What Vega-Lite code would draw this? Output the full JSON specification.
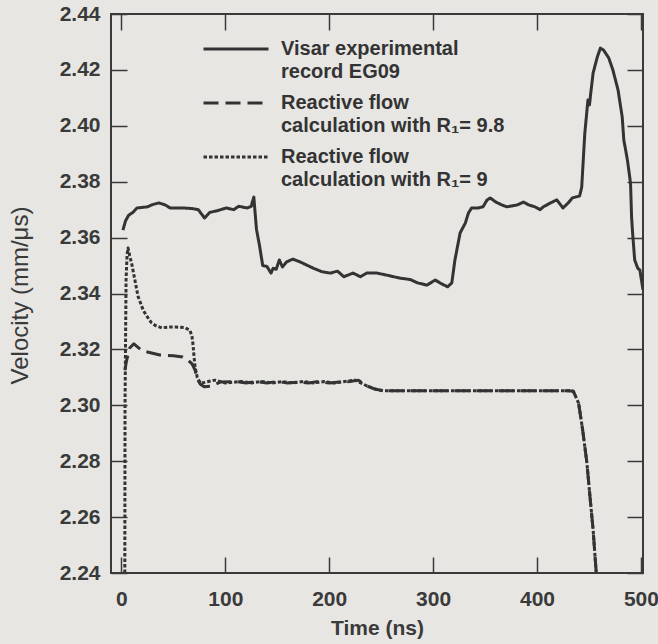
{
  "$schema": "https://vega.github.io/schema/vega-lite/v6.json",
  "autosize": "none",
  "width": 532,
  "height": 559,
  "padding": {"left": 111, "top": 14, "right": 15, "bottom": 71},
  "background": "#e7e6e3",
  "config": {
    "view": {"stroke": "#3a3a3a", "strokeWidth": 2, "fill": "#e7e6e3"},
    "font": "Liberation Sans",
    "style": {"guide-label": {"lineHeight": 23}}
  },
  "datasets": {
    "series": [
      {"t": 1.5, "v": 2.3627, "s": "EG09"}, {"t": 4, "v": 2.366, "s": "EG09"}, {"t": 7, "v": 2.368, "s": "EG09"},
      {"t": 11, "v": 2.369, "s": "EG09"}, {"t": 15, "v": 2.3706, "s": "EG09"}, {"t": 20, "v": 2.3708, "s": "EG09"},
      {"t": 25, "v": 2.371, "s": "EG09"}, {"t": 30, "v": 2.3718, "s": "EG09"}, {"t": 36, "v": 2.3724, "s": "EG09"},
      {"t": 42, "v": 2.3717, "s": "EG09"}, {"t": 47, "v": 2.3706, "s": "EG09"}, {"t": 59, "v": 2.3706, "s": "EG09"},
      {"t": 68, "v": 2.3704, "s": "EG09"}, {"t": 74, "v": 2.37, "s": "EG09"}, {"t": 80, "v": 2.367, "s": "EG09"},
      {"t": 85, "v": 2.369, "s": "EG09"}, {"t": 93, "v": 2.3697, "s": "EG09"}, {"t": 101, "v": 2.3706, "s": "EG09"},
      {"t": 108, "v": 2.37, "s": "EG09"}, {"t": 113, "v": 2.3712, "s": "EG09"}, {"t": 121, "v": 2.3706, "s": "EG09"},
      {"t": 125, "v": 2.3712, "s": "EG09"}, {"t": 126, "v": 2.3727, "s": "EG09"}, {"t": 127.5, "v": 2.3745, "s": "EG09"},
      {"t": 128, "v": 2.372, "s": "EG09"}, {"t": 130, "v": 2.363, "s": "EG09"}, {"t": 133, "v": 2.357, "s": "EG09"},
      {"t": 136, "v": 2.35, "s": "EG09"}, {"t": 140, "v": 2.3497, "s": "EG09"}, {"t": 144, "v": 2.3473, "s": "EG09"},
      {"t": 146, "v": 2.349, "s": "EG09"}, {"t": 149, "v": 2.3487, "s": "EG09"}, {"t": 152, "v": 2.352, "s": "EG09"},
      {"t": 155, "v": 2.3495, "s": "EG09"}, {"t": 159, "v": 2.3513, "s": "EG09"}, {"t": 165, "v": 2.3523, "s": "EG09"},
      {"t": 172, "v": 2.3513, "s": "EG09"}, {"t": 185, "v": 2.349, "s": "EG09"}, {"t": 193, "v": 2.3478, "s": "EG09"},
      {"t": 201, "v": 2.3473, "s": "EG09"}, {"t": 208, "v": 2.348, "s": "EG09"}, {"t": 214, "v": 2.346, "s": "EG09"},
      {"t": 223, "v": 2.3473, "s": "EG09"}, {"t": 230, "v": 2.346, "s": "EG09"}, {"t": 236, "v": 2.3473, "s": "EG09"},
      {"t": 246, "v": 2.3473, "s": "EG09"}, {"t": 255, "v": 2.3466, "s": "EG09"}, {"t": 268, "v": 2.3455, "s": "EG09"},
      {"t": 278, "v": 2.345, "s": "EG09"}, {"t": 285, "v": 2.3438, "s": "EG09"}, {"t": 294, "v": 2.343, "s": "EG09"},
      {"t": 302, "v": 2.3448, "s": "EG09"}, {"t": 308, "v": 2.3435, "s": "EG09"}, {"t": 314, "v": 2.3424, "s": "EG09"},
      {"t": 318, "v": 2.3438, "s": "EG09"}, {"t": 321, "v": 2.352, "s": "EG09"}, {"t": 326, "v": 2.3617, "s": "EG09"},
      {"t": 331, "v": 2.3652, "s": "EG09"}, {"t": 334, "v": 2.3688, "s": "EG09"}, {"t": 337, "v": 2.3706, "s": "EG09"},
      {"t": 343, "v": 2.3706, "s": "EG09"}, {"t": 348, "v": 2.371, "s": "EG09"}, {"t": 352, "v": 2.3735, "s": "EG09"},
      {"t": 355, "v": 2.3742, "s": "EG09"}, {"t": 360, "v": 2.3728, "s": "EG09"}, {"t": 366, "v": 2.3717, "s": "EG09"},
      {"t": 371, "v": 2.371, "s": "EG09"}, {"t": 381, "v": 2.3717, "s": "EG09"}, {"t": 387, "v": 2.3727, "s": "EG09"},
      {"t": 392, "v": 2.3717, "s": "EG09"}, {"t": 398, "v": 2.371, "s": "EG09"}, {"t": 403, "v": 2.37, "s": "EG09"},
      {"t": 406, "v": 2.371, "s": "EG09"}, {"t": 413, "v": 2.3724, "s": "EG09"}, {"t": 419, "v": 2.3735, "s": "EG09"},
      {"t": 425, "v": 2.3706, "s": "EG09"}, {"t": 430, "v": 2.3724, "s": "EG09"}, {"t": 434, "v": 2.3742, "s": "EG09"},
      {"t": 441, "v": 2.3749, "s": "EG09"}, {"t": 443, "v": 2.378, "s": "EG09"}, {"t": 446, "v": 2.3974, "s": "EG09"},
      {"t": 449, "v": 2.4092, "s": "EG09"}, {"t": 450.5, "v": 2.4075, "s": "EG09"}, {"t": 451.5, "v": 2.411, "s": "EG09"},
      {"t": 454, "v": 2.4189, "s": "EG09"}, {"t": 458, "v": 2.4246, "s": "EG09"}, {"t": 461, "v": 2.4278, "s": "EG09"},
      {"t": 464, "v": 2.4271, "s": "EG09"}, {"t": 469, "v": 2.4243, "s": "EG09"}, {"t": 473, "v": 2.42, "s": "EG09"},
      {"t": 478, "v": 2.4128, "s": "EG09"}, {"t": 482, "v": 2.4031, "s": "EG09"}, {"t": 483.5, "v": 2.395, "s": "EG09"},
      {"t": 487, "v": 2.3878, "s": "EG09"}, {"t": 490, "v": 2.3795, "s": "EG09"}, {"t": 491, "v": 2.3674, "s": "EG09"},
      {"t": 492, "v": 2.3616, "s": "EG09"}, {"t": 494, "v": 2.352, "s": "EG09"}, {"t": 497, "v": 2.349, "s": "EG09"},
      {"t": 499, "v": 2.3484, "s": "EG09"}, {"t": 502, "v": 2.3413, "s": "EG09"},

      {"t": 3.4, "v": 2.3125, "s": "R98"}, {"t": 5, "v": 2.316, "s": "R98"}, {"t": 8, "v": 2.3205, "s": "R98"},
      {"t": 12, "v": 2.322, "s": "R98"}, {"t": 20, "v": 2.3195, "s": "R98"}, {"t": 26, "v": 2.319, "s": "R98"},
      {"t": 37, "v": 2.318, "s": "R98"}, {"t": 50, "v": 2.3177, "s": "R98"}, {"t": 59, "v": 2.3173, "s": "R98"},
      {"t": 64, "v": 2.3162, "s": "R98"}, {"t": 68, "v": 2.3148, "s": "R98"}, {"t": 71, "v": 2.3125, "s": "R98"},
      {"t": 73, "v": 2.3095, "s": "R98"}, {"t": 76, "v": 2.3075, "s": "R98"}, {"t": 80, "v": 2.3066, "s": "R98"},
      {"t": 86, "v": 2.3068, "s": "R98"}, {"t": 95, "v": 2.3083, "s": "R98"}, {"t": 110, "v": 2.3085, "s": "R98"},
      {"t": 120, "v": 2.308, "s": "R98"}, {"t": 130, "v": 2.3085, "s": "R98"}, {"t": 140, "v": 2.308, "s": "R98"},
      {"t": 150, "v": 2.3085, "s": "R98"}, {"t": 160, "v": 2.308, "s": "R98"}, {"t": 170, "v": 2.3083, "s": "R98"},
      {"t": 180, "v": 2.308, "s": "R98"}, {"t": 190, "v": 2.3085, "s": "R98"}, {"t": 200, "v": 2.308, "s": "R98"},
      {"t": 210, "v": 2.3083, "s": "R98"}, {"t": 220, "v": 2.3085, "s": "R98"}, {"t": 228, "v": 2.309, "s": "R98"},
      {"t": 236, "v": 2.307, "s": "R98"}, {"t": 244, "v": 2.3058, "s": "R98"}, {"t": 252, "v": 2.3052, "s": "R98"},
      {"t": 280, "v": 2.3052, "s": "R98"}, {"t": 320, "v": 2.3052, "s": "R98"}, {"t": 360, "v": 2.3052, "s": "R98"},
      {"t": 400, "v": 2.3052, "s": "R98"}, {"t": 430, "v": 2.3052, "s": "R98"}, {"t": 435, "v": 2.305, "s": "R98"},
      {"t": 440, "v": 2.3008, "s": "R98"}, {"t": 444, "v": 2.291, "s": "R98"}, {"t": 448, "v": 2.2794, "s": "R98"},
      {"t": 451, "v": 2.2672, "s": "R98"}, {"t": 454, "v": 2.2554, "s": "R98"}, {"t": 457, "v": 2.24, "s": "R98"},

      {"t": 3.3, "v": 2.24, "s": "R9"}, {"t": 3.5, "v": 2.3, "s": "R9"}, {"t": 4.5, "v": 2.345, "s": "R9"},
      {"t": 5.5, "v": 2.354, "s": "R9"}, {"t": 6.4, "v": 2.3563, "s": "R9"}, {"t": 8, "v": 2.3535, "s": "R9"},
      {"t": 10, "v": 2.3505, "s": "R9"}, {"t": 13, "v": 2.3448, "s": "R9"}, {"t": 16, "v": 2.339, "s": "R9"},
      {"t": 21, "v": 2.334, "s": "R9"}, {"t": 25, "v": 2.3316, "s": "R9"}, {"t": 29, "v": 2.3295, "s": "R9"},
      {"t": 33, "v": 2.3285, "s": "R9"}, {"t": 39, "v": 2.3277, "s": "R9"}, {"t": 45, "v": 2.328, "s": "R9"},
      {"t": 52, "v": 2.328, "s": "R9"}, {"t": 61, "v": 2.3278, "s": "R9"}, {"t": 66, "v": 2.3268, "s": "R9"},
      {"t": 68, "v": 2.3245, "s": "R9"}, {"t": 69, "v": 2.3215, "s": "R9"}, {"t": 70, "v": 2.317, "s": "R9"},
      {"t": 71, "v": 2.3135, "s": "R9"}, {"t": 73, "v": 2.31, "s": "R9"}, {"t": 76, "v": 2.308, "s": "R9"},
      {"t": 80, "v": 2.3082, "s": "R9"}, {"t": 90, "v": 2.309, "s": "R9"}, {"t": 100, "v": 2.308, "s": "R9"},
      {"t": 115, "v": 2.3085, "s": "R9"}, {"t": 125, "v": 2.308, "s": "R9"}, {"t": 135, "v": 2.3085, "s": "R9"},
      {"t": 145, "v": 2.308, "s": "R9"}, {"t": 155, "v": 2.3085, "s": "R9"}, {"t": 165, "v": 2.308, "s": "R9"},
      {"t": 175, "v": 2.3085, "s": "R9"}, {"t": 185, "v": 2.308, "s": "R9"}, {"t": 195, "v": 2.3085, "s": "R9"},
      {"t": 205, "v": 2.308, "s": "R9"}, {"t": 215, "v": 2.3085, "s": "R9"}, {"t": 225, "v": 2.309, "s": "R9"},
      {"t": 236, "v": 2.307, "s": "R9"}, {"t": 244, "v": 2.3058, "s": "R9"}, {"t": 252, "v": 2.3052, "s": "R9"},
      {"t": 300, "v": 2.3052, "s": "R9"}, {"t": 350, "v": 2.3052, "s": "R9"}, {"t": 400, "v": 2.3052, "s": "R9"},
      {"t": 432, "v": 2.3052, "s": "R9"}, {"t": 435, "v": 2.305, "s": "R9"}, {"t": 440, "v": 2.3008, "s": "R9"},
      {"t": 444, "v": 2.291, "s": "R9"}, {"t": 448, "v": 2.2794, "s": "R9"}, {"t": 451, "v": 2.2672, "s": "R9"},
      {"t": 454, "v": 2.2554, "s": "R9"}, {"t": 457, "v": 2.24, "s": "R9"}
    ]
  },
  "data": {"name": "series"},
  "resolve": {"axis": {"x": "independent", "y": "independent"}},
  "layer": [
    {
      "mark": {"type": "line", "stroke": "#333333", "strokeWidth": 3, "clip": true, "strokeJoin": "round"},
      "encoding": {
        "x": {
          "field": "t", "type": "quantitative",
          "scale": {"domain": [-10, 502], "nice": false, "zero": false},
          "axis": {
            "orient": "bottom", "offset": -16, "values": [0, 100, 200, 300, 400, 500], "grid": false, "domain": false,
            "tickSize": 16, "tickWidth": 1.5, "tickColor": "#3a3a3a",
            "labelPadding": 15, "labelFontSize": 21, "labelFontWeight": "bold", "labelColor": "#3a3a3a",
            "labelFlush": false,
            "title": "Time (ns)", "titleFontSize": 21, "titleFontWeight": "bold", "titleColor": "#3a3a3a",
            "titleX": 266, "titleY": 71, "titleBaseline": "middle"
          }
        },
        "y": {
          "field": "v", "type": "quantitative",
          "scale": {"domain": [2.24, 2.44], "nice": false, "zero": false},
          "axis": {
            "orient": "left", "offset": -16, "values": [2.24, 2.26, 2.28, 2.3, 2.32, 2.34, 2.36, 2.38, 2.4, 2.42, 2.44],
            "format": ".2f", "grid": false, "domain": false,
            "tickSize": 16, "tickWidth": 1.5, "tickColor": "#3a3a3a",
            "labelPadding": 11, "labelFontSize": 21, "labelFontWeight": "bold", "labelColor": "#3a3a3a",
            "labelFlush": false,
            "title": "Velocity (mm/μs)", "titleFontSize": 24, "titleFontWeight": "normal", "titleColor": "#3a3a3a",
            "titleX": -107, "titleY": 281, "titleBaseline": "middle", "titleAngle": -90
          }
        },
        "strokeDash": {
          "field": "s", "type": "nominal",
          "scale": {"domain": ["EG09", "R98", "R9"], "range": [[1, 0], [15, 7], [3.5, 2]]},
          "legend": {
            "orient": "none", "legendX": 91, "legendY": 14, "padding": 0,
            "title": null, "symbolType": "stroke", "symbolSize": 4225, "symbolStrokeWidth": 3,
            "symbolStrokeColor": "#333333", "rowPadding": 0, "clipHeight": 42, "labelOffset": 11,
            "labelFontSize": 20, "labelFontWeight": "bold", "labelColor": "#333333", "labelLimit": 400,
            "labelBaseline": "middle",
            "labelExpr": "datum.label == 'EG09' ? ['Visar experimental', 'record EG09'] : datum.label == 'R98' ? ['Reactive flow', 'calculation with R₁= 9.8'] : ['Reactive flow', 'calculation with R₁= 9']"
          }
        }
      }
    },
    {
      "mark": {"type": "line", "opacity": 0},
      "encoding": {
        "x": {
          "field": "t", "type": "quantitative",
          "axis": {"orient": "top", "offset": -16, "values": [0, 100, 200, 300, 400, 500], "grid": false, "domain": false,
                   "labels": false, "title": null, "tickSize": 16, "tickWidth": 1.5, "tickColor": "#3a3a3a"}
        },
        "y": {
          "field": "v", "type": "quantitative",
          "axis": {"orient": "right", "offset": -16, "values": [2.24, 2.26, 2.28, 2.3, 2.32, 2.34, 2.36, 2.38, 2.4, 2.42, 2.44],
                   "grid": false, "domain": false, "labels": false, "title": null,
                   "tickSize": 16, "tickWidth": 1.5, "tickColor": "#3a3a3a"}
        },
        "detail": {"field": "s", "type": "nominal"}
      }
    }
  ]
}
